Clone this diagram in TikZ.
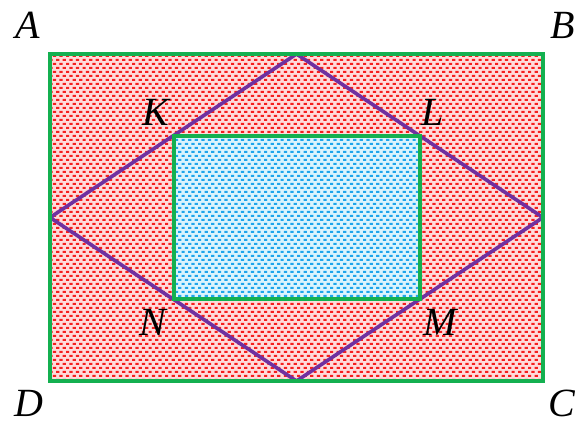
\documentclass[tikz,border=0pt]{standalone}
\usepackage{fontspec}
\setmainfont{Liberation Serif}
\usepackage{tikz}
\usetikzlibrary{patterns,calc}
\definecolor{rimgreen}{RGB}{20,176,80}
\definecolor{rhombpurple}{RGB}{112,48,160}
\definecolor{dotred}{RGB}{245,30,30}
\definecolor{dotblue}{RGB}{30,165,235}
% staggered little dashes, as in the shading of the figure
\pgfdeclarepatternformonly{dashdots}{\pgfqpoint{-1pt}{-1pt}}{\pgfqpoint{8pt}{9pt}}{\pgfqpoint{6.6pt}{8pt}}{
	\pgfpathrectangle{\pgfqpoint{0pt}{0pt}}{\pgfqpoint{3.2pt}{2pt}}
	\pgfpathrectangle{\pgfqpoint{3.3pt}{4pt}}{\pgfqpoint{3.2pt}{2pt}}
	\pgfusepath{fill}}
\tikzset{
	vertex/.style={font=\fontsize{40}{46}\selectfont\itshape,inner sep=0pt,anchor=base},
	rim/.style={rimgreen,line width=4pt},
	rhomb/.style={rhombpurple,line width=3.6pt,line join=miter}
}
\begin{document}
\begin{tikzpicture}[x=1pt,y=-1pt]
				\useasboundingbox (0,0) rectangle (579,425);
				% corners of the outer and inner rectangles
				\coordinate (A) at (50,54);
				\coordinate (B) at (543,54);
				\coordinate (C) at (543,381);
				\coordinate (D) at (50,381);
				\coordinate (K) at (174,136);
				\coordinate (L) at (420,136);
				\coordinate (M) at (420,299);
				\coordinate (N) at (174,299);
				% the shaded regions
				\fill[red!14] (A) rectangle (C);
				\fill[pattern=dashdots,pattern color=dotred] (A) rectangle (C);
				\fill[cyan!14] (K) rectangle (M);
				\fill[pattern=dashdots,pattern color=dotblue] (K) rectangle (M);
				% the rhombus through the midpoints of the sides
				\begin{scope}
					\clip (A) rectangle (C);
					\draw[rhomb] ($(A)!0.5!(B)$) -- ($(B)!0.5!(C)$) -- ($(C)!0.5!(D)$) -- ($(D)!0.5!(A)$) -- cycle;
				\end{scope}
				\draw[rim] (A) rectangle (C);
				\draw[rim] (K) rectangle (M);
				% letters
				\node[vertex] (lA) at (28,39) {A};
				\node[vertex] (lB) at (563,39) {B};
				\node[vertex] (lC) at (562,416) {C};
				\node[vertex] (lD) at (29,416) {D};
				\node[vertex] (lK) at (156,126) {K};
				\node[vertex] (lL) at (433,126) {L};
				\node[vertex] (lM) at (440,335) {M};
				\node[vertex] (lN) at (153,335) {N};
			\end{tikzpicture}
\end{document}
